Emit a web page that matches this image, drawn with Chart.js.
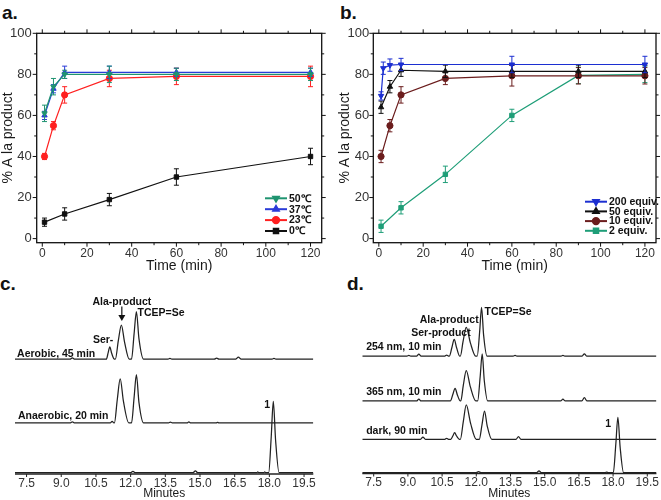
<!DOCTYPE html>
<html>
<head>
<meta charset="utf-8">
<script src="https://cdn.jsdelivr.net/npm/chart.js@4.4.1/dist/chart.umd.min.js"></script>
<style>
  body { margin: 0; background: #fff; width: 661px; height: 500px; position: relative; overflow: hidden; font-family: "Liberation Sans", Arial, sans-serif; }
  canvas { position: absolute; }
  .plbl { position: absolute; font-weight: bold; font-size: 19px; line-height: 1; color: #111; }
</style>
</head>
<body>
<div class="plbl" style="left:2px;top:3px">a.</div>
<div class="plbl" style="left:340px;top:3px">b.</div>
<div class="plbl" style="left:0px;top:274px">c.</div>
<div class="plbl" style="left:347px;top:274px">d.</div>
<canvas id="cv-a" width="330" height="273" style="left:0;top:0"></canvas>
<canvas id="cv-b" width="331" height="273" style="left:330px;top:0"></canvas>
<canvas id="cv-c" width="330" height="235" style="left:0;top:265px"></canvas>
<canvas id="cv-d" width="331" height="235" style="left:330px;top:265px"></canvas>
<script>
// ---- tick labels ----
const timeTicks = [0, 20, 40, 60, 80, 100, 120];
const pctTicks = [0, 20, 40, 60, 80, 100];
const chromTicks = [7.5, 9.0, 10.5, 12.0, 13.5, 15.0, 16.5, 18.0, 19.5];

// ---- panel a: temperature ----
const timeA = [1, 5, 10, 30, 60, 120];
const a50 = [61, 74, 80, 80, 80, 80];
const a50Err = [4, 4, 2, 4, 3, 3];
const a37 = [60, 73, 81, 81, 81, 81];
const a37Err = [2, 2, 3, 3, 2, 2];
const a23 = [40, 55, 70, 78, 79, 79];
const a23Err = [1.5, 2, 4, 4, 4, 5];
const time0C = [1, 10, 30, 60, 120];
const a0 = [8, 12, 19, 30, 40];
const a0Err = [2, 3, 3, 4, 4];

// ---- panel b: equivalents ----
const timeB200 = [1, 2, 5, 10, 60, 120];
const b200 = [69.5, 83, 84.5, 84.8, 84.8, 84.8];
const b200Err = [2, 3, 3, 3, 4, 4];
const timeB = [1, 5, 10, 30, 60, 90, 120];
const b50 = [64, 74, 82, 81.5, 81.5, 81.5, 81.5];
const b50Err = [3, 3, 3, 3, 3, 3, 3];
const b10 = [40, 55, 70, 78, 79.3, 79.3, 79.3];
const b10Err = [3, 3, 4, 3, 5, 4, 4];
const timeB2 = [1, 10, 30, 60, 90, 120];
const b2 = [6, 15, 31.3, 60, 79.5, 80];
const b2Err = [3, 3, 4, 3, 4, 4];

// ---- panel c: HPLC traces (minutes / signal) ----
const cAeroT = [7.0, 9.38, 9.48, 9.58, 10.95, 11.03, 11.1, 11.18, 11.3, 11.34, 11.47, 11.6, 11.74, 11.94, 12.04, 12.15, 12.25, 12.36, 12.56, 13.62, 13.7, 13.78, 15.62, 15.72, 15.82, 16.54, 16.66, 16.78, 18.12, 18.2, 18.28, 19.9];
const cAeroY = [0, 0, 0.8, 0, 0, 3.8, 7.1, 3.4, 0, 0, 10.8, 19.6, 9.6, 0, 0, 14.5, 27.3, 11.8, 0, 0, 0.4, 0, 0, 0.6, 0, 0, 1.2, 0, 0, 0.4, 0, 0];
const cAnaeT = [7.0, 9.4, 9.48, 9.56, 11.12, 11.2, 11.28, 11.3, 11.42, 11.55, 11.69, 11.92, 12.04, 12.15, 12.25, 12.36, 12.56, 13.64, 13.72, 13.8, 14.44, 14.52, 14.6, 15.7, 15.76, 15.82, 19.9];
const cAnaeY = [0, 0, 0.6, 0, 0, 0.9, 0, 0, 13, 25.2, 12.3, 0, 0, 14.5, 27.7, 11.8, 0, 0, 0.4, 0, 0, 0.5, 0, 0, 0.3, 0, 0];
const cStdT = [7.0, 12.0, 12.1, 12.2, 14.7, 14.8, 14.9, 17.45, 17.5, 17.55, 17.75, 17.8, 17.85, 17.97, 18.08, 18.17, 18.27, 18.42, 19.9];
const cStdY = [0, 0, 0.8, 0, 0, 1.1, 0, 0, 0.4, 0, 0, 0.4, 0, 0, 20.5, 41, 18.5, 0, 0];

// ---- panel d: HPLC traces ----
const d254T = [7.0, 8.96, 9.04, 9.12, 9.38, 9.48, 9.58, 10.62, 10.7, 10.78, 10.82, 10.93, 11.03, 11.14, 11.27, 11.3, 11.42, 11.56, 11.74, 11.97, 12.04, 12.15, 12.23, 12.32, 12.47, 13.62, 13.7, 13.78, 15.72, 15.8, 15.88, 16.64, 16.74, 16.84, 19.9];
const d254Y = [0, 0, 0.4, 0, 0, 1.1, 0, 0, 0.5, 0, 0, 4.9, 9.6, 4.6, 0, 0, 8.4, 16.5, 7.6, 0, 0, 14.5, 28.1, 12.2, 0, 0, 0.4, 0, 0, 0.4, 0, 0, 1.3, 0, 0];
const d365T = [7.0, 9.38, 9.48, 9.58, 10.86, 10.97, 11.07, 11.17, 11.3, 11.32, 11.43, 11.56, 11.74, 11.98, 12.06, 12.17, 12.26, 12.35, 12.5, 15.7, 15.8, 15.9, 16.63, 16.74, 16.85, 19.9];
const d365Y = [0, 0, 1.1, 0, 0, 3.7, 7.3, 3.5, 0, 0, 9, 17.5, 8.1, 0, 0, 14, 27.1, 11.8, 0, 0, 1.0, 0, 0, 1.9, 0, 0];
const dDarkT = [7.0, 9.55, 9.66, 9.77, 10.62, 10.7, 10.78, 10.88, 10.97, 11.05, 11.14, 11.26, 11.3, 11.43, 11.56, 11.75, 12.0, 12.13, 12.25, 12.36, 12.48, 12.68, 13.74, 13.85, 13.96, 19.9];
const dDarkY = [0, 0, 1.3, 0, 0, 0.6, 0, 0, 1.9, 3.8, 1.8, 0, 0, 10.2, 19.8, 9.2, 0, 0, 8.4, 16.3, 7.6, 0, 0, 1.5, 0, 0];
const dStdT = [7.0, 12.0, 12.1, 12.2, 14.65, 14.75, 14.85, 17.65, 17.72, 17.79, 18.01, 18.12, 18.21, 18.31, 18.46, 19.9];
const dStdY = [0, 0, 0.6, 0, 0, 1.0, 0, 0, 0.3, 0, 0, 16.5, 31.9, 14.5, 0, 0];

Chart.defaults.font.family = '"Liberation Sans", Arial, sans-serif';
Chart.defaults.color = '#1a1a1a';

// 誤差棒：依資料值換算像素後繪製
const errPlugin = {
  id: 'errbars',
  beforeDatasetDraw(chart, args) {
    const ds = chart.data.datasets[args.index];
    if (!ds.err) return;
    const { ctx, scales: { x, y } } = chart;
    ctx.save();
    ctx.strokeStyle = ds.borderColor; ctx.lineWidth = 1;
    ds.data.forEach((p, i) => {
      const px = x.getPixelForValue(p.x);
      const y1 = y.getPixelForValue(p.y + ds.err[i]), y2 = y.getPixelForValue(p.y - ds.err[i]);
      ctx.beginPath();
      ctx.moveTo(px, y1); ctx.lineTo(px, y2);
      ctx.moveTo(px - 2.5, y1); ctx.lineTo(px + 2.5, y1);
      ctx.moveTo(px - 2.5, y2); ctx.lineTo(px + 2.5, y2);
      ctx.stroke();
    });
    ctx.restore();
  }
};

// 外框 + 四邊刻度（主/次刻度皆朝外）
const boxPlugin = {
  id: 'box',
  afterDraw(chart) {
    const { ctx, chartArea: ca, scales: { x, y } } = chart;
    ctx.save();
    ctx.strokeStyle = '#111'; ctx.lineWidth = 1.3;
    ctx.strokeRect(ca.left, ca.top, ca.right - ca.left, ca.bottom - ca.top);
    ctx.lineWidth = 1;
    ctx.beginPath();
    for (let v = 0; v <= 120; v += 10) {
      const px = x.getPixelForValue(v), len = v % 20 === 0 ? 4 : 2.5;
      ctx.moveTo(px, ca.bottom); ctx.lineTo(px, ca.bottom + len);
      ctx.moveTo(px, ca.top); ctx.lineTo(px, ca.top - len);
    }
    for (let v = 0; v <= 100; v += 10) {
      const py = y.getPixelForValue(v), len = v % 20 === 0 ? 4 : 2.5;
      ctx.moveTo(ca.left, py); ctx.lineTo(ca.left - len, py);
      ctx.moveTo(ca.right, py); ctx.lineTo(ca.right + len, py);
    }
    ctx.stroke();
    ctx.restore();
  }
};

// 自製圖例（右下角）
const keyPlugin = {
  id: 'key',
  afterDraw(chart, args, o) {
    if (!o.x0) return;
    const ctx = chart.ctx;
    ctx.save();
    ctx.font = 'bold 10.5px "Liberation Sans", Arial, sans-serif';
    ctx.textBaseline = 'middle';
    chart.data.datasets.forEach((ds, i) => {
      const yy = o.y0 + i * o.dy;
      ctx.strokeStyle = ds.borderColor; ctx.fillStyle = ds.borderColor; ctx.lineWidth = 2;
      ctx.beginPath(); ctx.moveTo(o.x0, yy); ctx.lineTo(o.x1, yy); ctx.stroke();
      Chart.helpers.drawPoint(ctx, { pointStyle: ds.pointStyle, rotation: ds.rotation || 0, radius: 3.2, borderWidth: 1 }, (o.x0 + o.x1) / 2, yy);
      ctx.fillStyle = '#111';
      ctx.fillText(ds.label, o.tx, yy + 0.5);
    });
    ctx.restore();
  }
};

// 層析圖：下方軸線與文字標註
const chromPlugin = {
  id: 'chrom',
  afterDraw(chart, args, o) {
    const { ctx, chartArea: ca, scales: { x, y } } = chart;
    ctx.save();
    ctx.strokeStyle = '#222'; ctx.lineWidth = 1.5;
    ctx.beginPath(); ctx.moveTo(ca.left, ca.bottom); ctx.lineTo(ca.right, ca.bottom); ctx.stroke();
    ctx.lineWidth = 1;
    ctx.beginPath();
    chromTicks.forEach(v => { const px = x.getPixelForValue(v); ctx.moveTo(px, ca.bottom); ctx.lineTo(px, ca.bottom + 3); });
    ctx.stroke();
    ctx.fillStyle = '#111';
    ctx.font = 'bold 10.5px "Liberation Sans", Arial, sans-serif';
    ctx.textBaseline = 'middle';
    (o.notes || []).forEach(n => {
      ctx.textAlign = n.align || 'left';
      ctx.fillText(n.text, x.getPixelForValue(n.t), y.getPixelForValue(n.v));
    });
    (o.arrows || []).forEach(a => {
      const px = x.getPixelForValue(a.t), y1 = y.getPixelForValue(a.v1), y2 = y.getPixelForValue(a.v2);
      ctx.strokeStyle = '#111'; ctx.lineWidth = 1.2;
      ctx.beginPath(); ctx.moveTo(px, y1); ctx.lineTo(px, y2 - 4); ctx.stroke();
      ctx.beginPath(); ctx.moveTo(px - 3.5, y2 - 6); ctx.lineTo(px, y2); ctx.lineTo(px + 3.5, y2 - 6); ctx.closePath(); ctx.fill();
    });
    ctx.restore();
  }
};

function series(label, xs, ys, errs, color, style, rot) {
  return {
    label, data: xs.map((x, i) => ({ x, y: ys[i] })), err: errs,
    borderColor: color, backgroundColor: color, pointStyle: style, rotation: rot || 0,
    pointRadius: 3.1, pointBorderWidth: 1, borderWidth: 1.2, tension: 0
  };
}

function kineticChart(id, datasets, yw, padR, titlePad, labPad, key) {
  return new Chart(document.getElementById(id), {
    type: 'line',
    data: { datasets },
    options: {
      responsive: false, animation: false, devicePixelRatio: 1,
      layout: { padding: { top: 33.3, right: padR, left: 0, bottom: 0 } },
      plugins: { legend: { display: false }, tooltip: { enabled: false }, key },
      scales: {
        x: {
          type: 'linear', min: -2.5, max: 125,
          afterBuildTicks: s => { s.ticks = timeTicks.map(v => ({ value: v })); },
          afterFit: s => { s.height = 30.3; },
          grid: { display: false, drawTicks: false }, border: { display: false },
          ticks: { font: { size: 12 }, padding: 4, maxRotation: 0, color: '#333' },
          title: { display: true, text: 'Time (min)', font: { size: 14, lineHeight: 1 }, padding: 0 }
        },
        y: {
          min: -2, max: 100,
          afterBuildTicks: s => { s.ticks = pctTicks.map(v => ({ value: v })); },
          afterFit: s => { s.width = yw; },
          grid: { display: false, drawTicks: false }, border: { display: false },
          ticks: { font: { size: 13 }, padding: labPad, color: '#333' },
          title: { display: true, text: '% A la product', font: { size: 14, lineHeight: 1 }, padding: { top: titlePad, bottom: 0 } }
        }
      }
    },
    plugins: [errPlugin, boxPlugin, keyPlugin]
  });
}

kineticChart('cv-a', [
  series('50℃', timeA, a50, a50Err, '#1f9470', 'triangle', 180),
  series('37℃', timeA, a37, a37Err, '#2a3bd8', 'triangle'),
  series('23℃', timeA, a23, a23Err, '#ff2020', 'circle'),
  series('0℃', time0C, a0, a0Err, '#111111', 'rect')
], 36.7, 8.3, 1, 5, { x0: 265, x1: 287, tx: 289, y0: 198.3, dy: 10.9 });

kineticChart('cv-b', [
  series('200 equiv.', timeB200, b200, b200Err, '#1c2fd1', 'triangle', 180),
  series('50 equiv.', timeB, b50, b50Err, '#111111', 'triangle'),
  series('10 equiv.', timeB, b10, b10Err, '#6b1d1d', 'circle'),
  series('2 equiv.', timeB2, b2, b2Err, '#1f9e78', 'rect')
], 43.3, 3.3, 8, 4, { x0: 255, x1: 277, tx: 279, y0: 201.7, dy: 9.7 });

function trace(ts, ys, base) {
  return {
    data: ts.map((t, i) => ({ x: t, y: ys[i] + base })),
    borderColor: '#222', borderWidth: 1.25, pointRadius: 0, cubicInterpolationMode: 'monotone'
  };
}

function chromChart(id, datasets, padL, padR, axisH, chrom) {
  return new Chart(document.getElementById(id), {
    type: 'line',
    data: { datasets },
    options: {
      responsive: false, animation: false, devicePixelRatio: 1,
      layout: { padding: { top: 35, left: padL, right: padR, bottom: 0 } },
      plugins: { legend: { display: false }, tooltip: { enabled: false }, chrom },
      scales: {
        x: {
          type: 'linear', min: 7.0, max: 19.9,
          afterBuildTicks: s => { s.ticks = chromTicks.map(v => ({ value: v })); },
          afterFit: s => { s.height = axisH; },
          grid: { display: false, drawTicks: false }, border: { display: false },
          ticks: { font: { size: 12 }, padding: 2, maxRotation: 0, color: '#333', callback: v => v.toFixed(1) },
          title: { display: true, text: 'Minutes', font: { size: 12, lineHeight: 1 }, padding: 0 }
        },
        y: { display: false, min: 0, max: 100 }
      }
    },
    plugins: [chromPlugin]
  });
}

chromChart('cv-c', [
  trace(cAeroT, cAeroY, 66),
  trace(cAnaeT, cAnaeY, 29.4),
  trace(cStdT, cStdY, 0.75)
], 15, 16.7, 26, {
  notes: [
    { text: 'Ala-product', t: 11.62, v: 99, align: 'center' },
    { text: 'TCEP=Se', t: 12.3, v: 92.4 },
    { text: 'Ser-', t: 10.81, v: 77, align: 'center' },
    { text: 'Aerobic, 45 min', t: 7.09, v: 69 },
    { text: 'Anaerobic, 20 min', t: 7.13, v: 33.5 },
    { text: '1', t: 17.9, v: 39.7, align: 'center' }
  ],
  arrows: [{ t: 11.62, v1: 96.2, v2: 87.9 }]
});

chromChart('cv-d', [
  trace(d254T, d254Y, 67.7),
  trace(d365T, d365Y, 41.8),
  trace(dDarkT, dDarkY, 19.7),
  trace(dStdT, dStdY, 0.5)
], 32.3, 1, 26.5, {
  notes: [
    { text: '254 nm, 10 min', t: 7.17, v: 73.1 },
    { text: '365 nm, 10 min', t: 7.17, v: 46.8 },
    { text: 'dark, 90 min', t: 7.17, v: 24.5 },
    { text: 'Ser-product', t: 10.45, v: 81.2, align: 'center' },
    { text: 'Ala-product', t: 10.81, v: 88.5, align: 'center' },
    { text: 'TCEP=Se', t: 12.36, v: 93.3 },
    { text: '1', t: 17.78, v: 28.5, align: 'center' }
  ]
});
</script>
</body>
</html>
